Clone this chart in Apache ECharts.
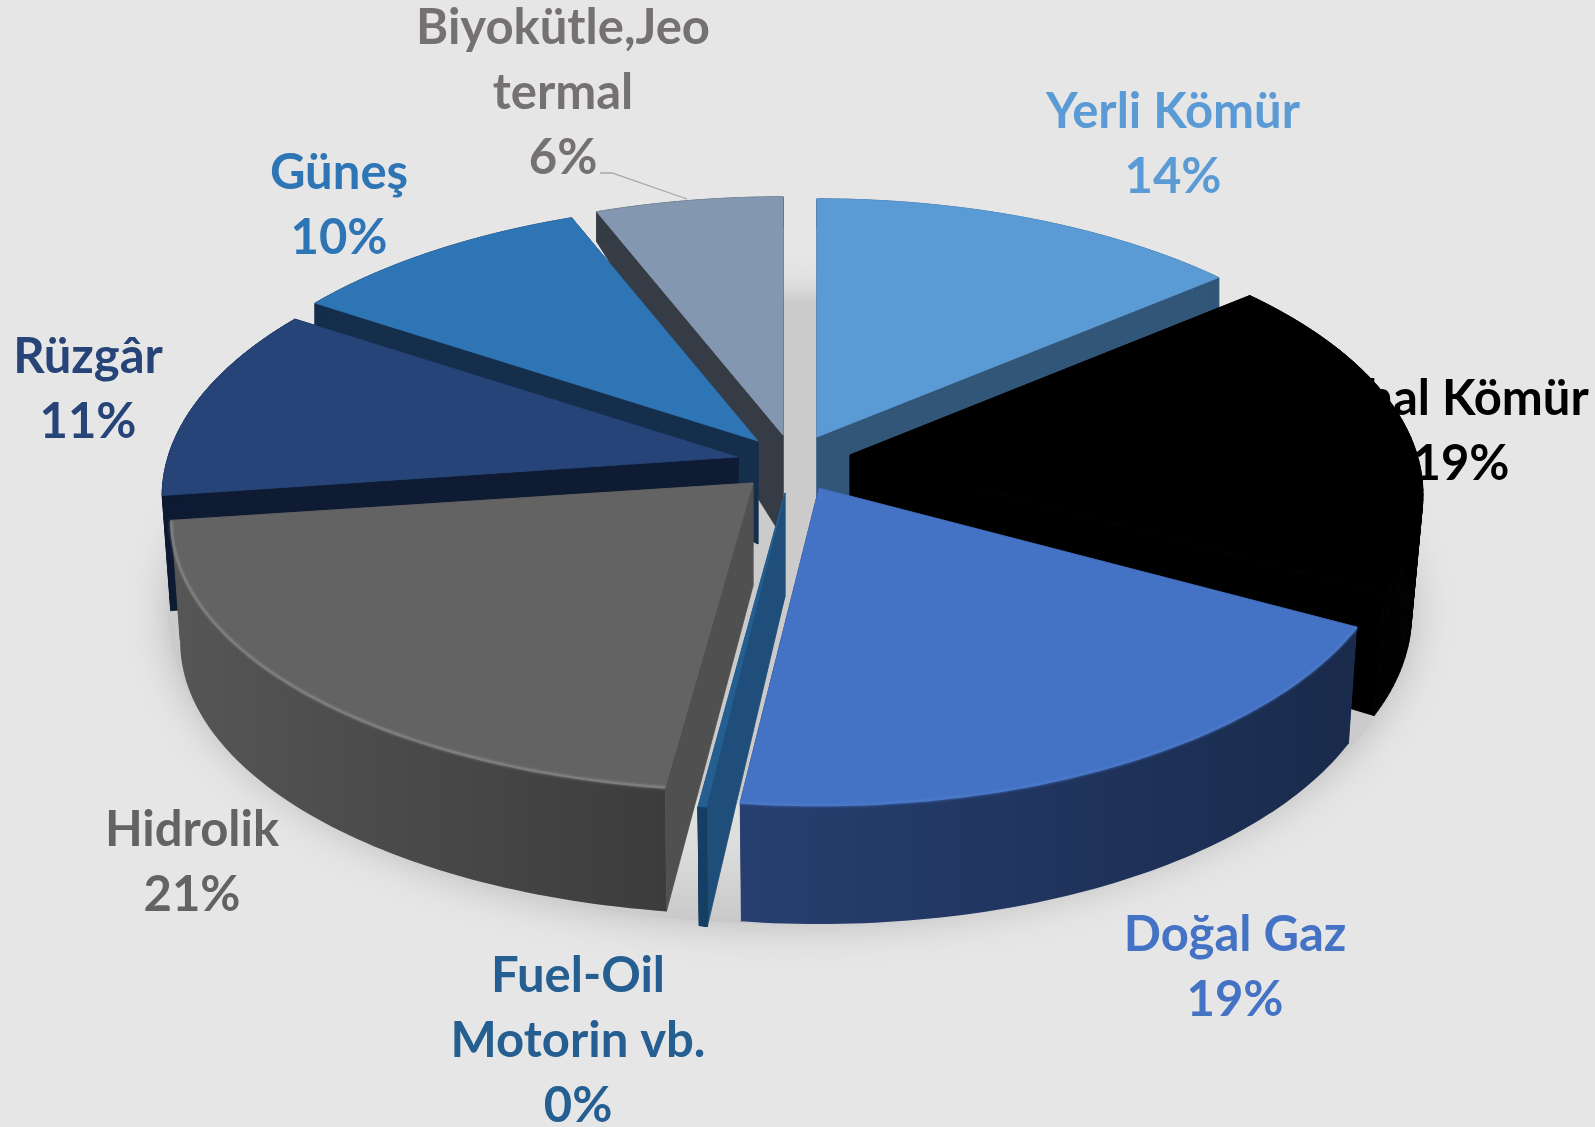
<!DOCTYPE html>
<html><head><meta charset="utf-8"><style>html,body{margin:0;padding:0;background:#e6e6e6}#c{width:1595px;height:1127px}</style>
<script src="https://cdn.jsdelivr.net/npm/echarts@6/dist/echarts.min.js"></script></head>
<body><div id="c"></div>
<script>
// --- data (clockwise from 12 o'clock)
const categories = ['Yerli Kömür','İthal Kömür','Doğal Gaz','Fuel-Oil Motorin vb.','Hidrolik','Rüzgâr','Güneş','Biyokütle,Jeo termal'];
const shares = [14, 19, 19.05, 0.2, 20.75, 11.45, 9.8, 6.05];
const labelLines = [['Yerli Kömür'],['İthal Kömür'],['Doğal Gaz'],['Fuel-Oil','Motorin vb.'],['Hidrolik'],['Rüzgâr'],['Güneş'],['Biyokütle,Jeo','termal']];
const drawOrder = [7, 6, 5, 0, 1, 4, 3, 2];

// --- styling / layout
const RX = 570, RY = 272, PERSP = 0.142, FONT = 49, LINE = 65;
const sliceStyle = [
 {apex:[817,437], sx:1.00, sy:1.00, top:'#5B9BD5', cut:'#315678', wall:['#315678','#315678'], text:'#5B9BD5', lx:1173, ly:112},
 {apex:[850,455], sx:0.995, sy:1.00, shrink:0.98, extra:5, top:'#000000', cut:'#000000', wall:['#000000','#000000'], text:'#000000', lx:1461, ly:399},
 {apex:[819,488], sx:1.00, sy:1.00, top:'#4472C4', cut:'#1f3560', wall:['#273F70','#192A4B'], rim:'#4a78c9', text:'#4472C4', lx:1235, ly:935},
 {apex:[785,493], sx:1.00, sy:1.00, top:'#255E91', cut:'#1E4E79', wall:['#173f63','#173f63'], text:'#255E91', lx:578, ly:976},
 {apex:[753,483], sx:1.01, sy:0.97, extra:5, top:'#636363', cut:'#505050', wall:['#565656','#3C3C3C'], rim:'#7d7d7d', text:'#636363', lx:192, ly:830},
 {apex:[738,457], sx:1.00, sy:1.00, top:'#264478', cut:'#0E1B33', wall:['#0E1B33','#0E1B33'], text:'#264478', lx:88, ly:357},
 {apex:[758,441], sx:1.00, sy:1.00, top:'#2E75B6', cut:'#142E4C', wall:['#142E4C','#142E4C'], text:'#2E75B6', lx:339, ly:173},
 {apex:[783,435], sx:1.00, sy:1.00, top:'#8497B0', cut:'#353C45', wall:['#353C45','#353C45'], text:'#767171', lx:563, ly:28, leader:[[600,173],[612,173],[687,199]]}
];
// wall height by depth: [depth, px]
const wallHeight = [[-1,119],[-0.1,115],[0.1,112],[0.64,30],[1,30]];
const BOTTOM_SHRINK = 0.985, APEX_H = 103;

function heightAt(y){
  for(let i=1;i<wallHeight.length;i++){
    const a=wallHeight[i-1], b=wallHeight[i];
    if(y<=b[0]) return a[1]+(b[1]-a[1])*(y-a[0])/(b[0]-a[0]);
  }
  return wallHeight[wallHeight.length-1][1];
}
const total = shares.reduce((a,b)=>a+b,0);
const starts = []; shares.reduce((acc,v,i)=>{starts[i]=acc;return acc+v;},0);

function rimPoint(st,theta){
  const sin=Math.sin(theta), y=Math.cos(theta), s=1/(1+PERSP*y);
  const dx=RX*st.sx*sin*s, dy=RY*st.sy*y*s;
  const shrink = y>0.3 ? 1 : (st.shrink||BOTTOM_SHRINK);
  return {top:[st.apex[0]+dx, st.apex[1]-dy], bottom:[st.apex[0]+dx*shrink, st.apex[1]-dy+heightAt(y)+(y<0.3?(st.extra||0):0)]};
}
function renderSlice(params, api){
  const idx = drawOrder[params.dataIndex], st = sliceStyle[idx];
  const a0 = api.value(1)/total*2*Math.PI, a1 = (api.value(1)+api.value(0))/total*2*Math.PI;
  const n = 70, tops=[], bots=[];
  for(let i=0;i<=n;i++){ const p=rimPoint(st,a0+(a1-a0)*i/n); tops.push(p.top); bots.push(p.bottom); }
  const apexB=[st.apex[0],st.apex[1]+APEX_H];
  const children=[];
  const lines=labelLines[idx].concat([Math.round(api.value(0))+'%']);
  lines.forEach((t,i)=>children.push({type:'text',silent:true,style:{text:t,x:st.lx,y:st.ly+i*LINE,align:'center',verticalAlign:'middle',fill:st.text,fontFamily:'Lato',fontWeight:'bold',fontSize:FONT}}));
  if(st.leader) children.push({type:'polyline',silent:true,shape:{points:st.leader},style:{fill:null,stroke:'#a6a6a6',lineWidth:1.3}});
  const poly=(pts,fill,stroke)=>({type:'polygon',silent:true,shape:{points:pts},style:{fill:fill,stroke:stroke||null,lineWidth:stroke?0.8:0}});
  children.push(poly([st.apex,tops[n],bots[n],apexB],st.cut,st.cut));
  children.push(poly([st.apex,tops[0],bots[0],apexB],st.cut,st.cut));
  if(st.wall[0]===st.wall[1]){
    for(let i=0;i<n;i++) children.push(poly([tops[i],tops[i+1],bots[i+1],bots[i]],st.wall[0],st.wall[0]));
  } else {
    const grad=new echarts.graphic.LinearGradient(0,0,1,0,[{offset:0,color:st.wall[0]},{offset:1,color:st.wall[1]}]);
    children.push(poly(tops.concat(bots.slice().reverse()),grad));
  }
  children.push(poly([st.apex].concat(tops),st.top,st.top));
  if(st.rim){
    children.push({type:'polyline',silent:true,shape:{points:tops},style:{fill:null,stroke:st.rim,lineWidth:2.5,shadowBlur:3,shadowColor:st.rim}});
  }
  return {type:'group',children:children};
}
const chart = echarts.init(document.getElementById('c'),null,{renderer:'canvas'});
chart.setOption({
  animation:false,
  backgroundColor:'#E6E6E6',
  graphic:[{type:'ellipse',z:0,silent:true,shape:{cx:790,cy:612,rx:622,ry:312},
    style:{fill:new echarts.graphic.LinearGradient(0,0,0,1,[
      {offset:0,color:'#cbcbcb'},{offset:0.79,color:'#cbcbcb'},{offset:0.81,color:'#e2e2e2'},{offset:0.88,color:'#dcdcdc'},{offset:1,color:'#c8c8c8'}]),
      shadowBlur:42,shadowColor:'#b8b8b8'}}],
  series:[{type:'custom',coordinateSystem:'none',clip:false,silent:true,renderItem:renderSlice,
    data:drawOrder.map(i=>({name:categories[i],value:[shares[i],starts[i]]}))}]
});
</script></body></html>
